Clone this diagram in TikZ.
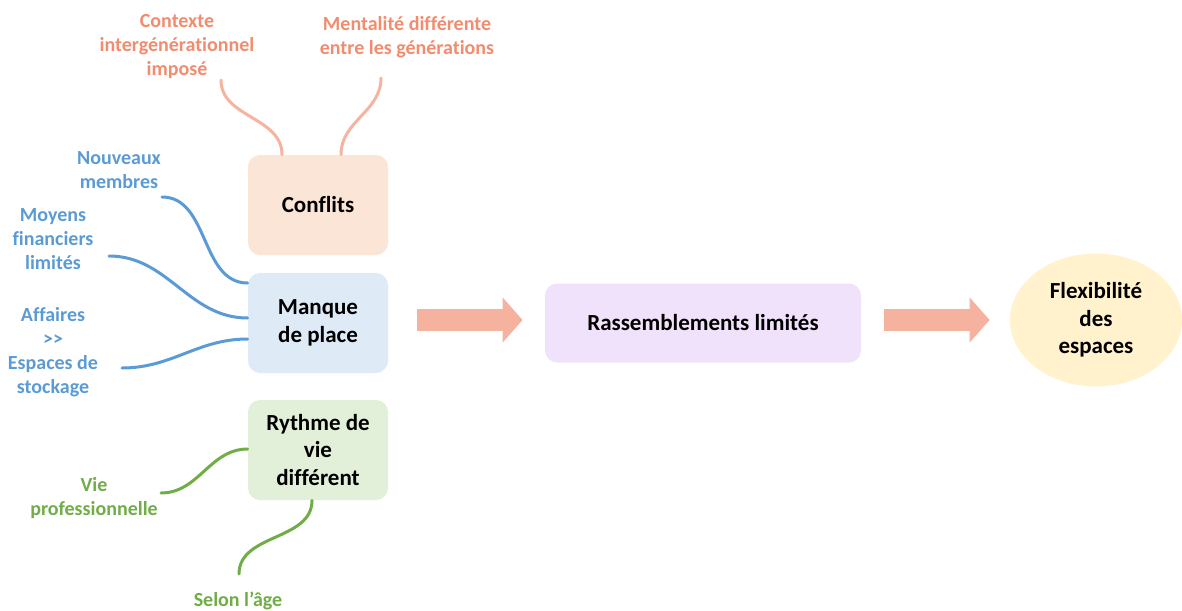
\documentclass[tikz,border=0pt]{standalone}
\usepackage{fontspec}
\setmainfont{Carlito}[Ligatures=NoCommon]
\usetikzlibrary{arrows.meta,positioning,shapes.geometric}
\definecolor{ortxt}{RGB}{241,140,110}
\definecolor{orcv}{RGB}{245,180,160}
\definecolor{blu}{RGB}{91,155,213}
\definecolor{grn}{RGB}{112,173,71}
\definecolor{arr}{RGB}{245,178,158}
\definecolor{fconf}{RGB}{251,229,214}
\definecolor{fmanq}{RGB}{222,235,247}
\definecolor{fryth}{RGB}{226,240,217}
\definecolor{frass}{RGB}{240,226,250}
\definecolor{fflex}{RGB}{255,242,204}

\begin{document}
\begin{tikzpicture}[x=0.5pt,y=-0.5pt,
  bx/.style={rounded corners=6pt, minimum width=70pt, minimum height=50pt, align=center, inner sep=2pt, font=\bfseries\fontsize{11.5}{13.7}\selectfont},
  lb/.style={align=center, font=\bfseries\fontsize{10}{12}\selectfont},
  cv/.style={line width=1.5pt, line cap=round},
  blk/.style={line width=11pt, draw=arr, -{Triangle[length=10pt,width=22pt]}}]
\useasboundingbox (0,0) rectangle (1182,610);

% main boxes
\node[bx, fill=fconf] (conf) at (318,205) {Conflits};
\node[bx, fill=fmanq] (manq) at (318,323) {Manque\\de place};
\node[bx, fill=fryth] (ryth) at (318,450) {Rythme de\\vie\\différent};
\node[bx, fill=frass, minimum width=158pt, minimum height=39.5pt] (rass) at (703,323) {Rassemblements limités};
\node[ellipse, fill=fflex, minimum width=86pt, minimum height=66.5pt, align=center, inner sep=0pt,
  font=\bfseries\fontsize{11.5}{13.7}\selectfont] (flex) at (1096,320) {Flexibilité\\des\\espaces};

% block arrows
\draw[blk, shorten <=14.5pt, shorten >=11pt] ([yshift=1.5pt]manq.east) -- ([yshift=1.5pt]rass.west);
\draw[blk, shorten <=11.5pt, shorten >=10pt] ([yshift=1.5pt]rass.east) -- (flex.west);

% causes
\node[lb, text=ortxt] (ctx) at (177,47) {Contexte\\intergénérationnel\\imposé};
\node[lb, text=ortxt] (ment) at (407,37) {Mentalité différente\\entre les générations};
\node[lb, text=blu] (nouv) at (119,170) {Nouveaux\\membres};
\node[lb, text=blu] (moy) at (53,239) {Moyens\\financiers\\limités};
\node[lb, text=blu] (aff) at (53,352) {Affaires\\>{}>\\Espaces de\\stockage};
\node[lb, text=grn] (viep) at (94,498) {Vie\\professionnelle};
\node[lb, text=grn] (age) at (238,601) {Selon l’âge};

% free ends of the branches
\coordinate (ctxe) at (221,80);
\coordinate (mente) at (381,78);
\coordinate (nouve) at (162,197);
\coordinate (moye) at (109,256);
\coordinate (affe) at (122,368);
\coordinate (viepe) at (161,493);
\coordinate (agee) at (239,574);

% branches
\draw[cv, orcv] (ctxe) to[out=-90,in=90] ([xshift=-18pt]conf.north);
\draw[cv, orcv] (mente) to[out=-90,in=90] ([xshift=11.5pt]conf.north);
\draw[cv, blu] (nouve) to[out=0,in=180] ([yshift=20pt]manq.west);
\draw[cv, blu] (moye) to[out=0,in=180] ([yshift=2.5pt]manq.west);
\draw[cv, blu] (affe) to[out=0,in=180] ([yshift=-8pt]manq.west);
\draw[cv, grn] (viepe) to[out=0,in=180] ([yshift=0.5pt]ryth.west);
\draw[cv, grn] (agee) to[out=90,in=-90] ([xshift=-3pt]ryth.south);
\end{tikzpicture}
\end{document}
